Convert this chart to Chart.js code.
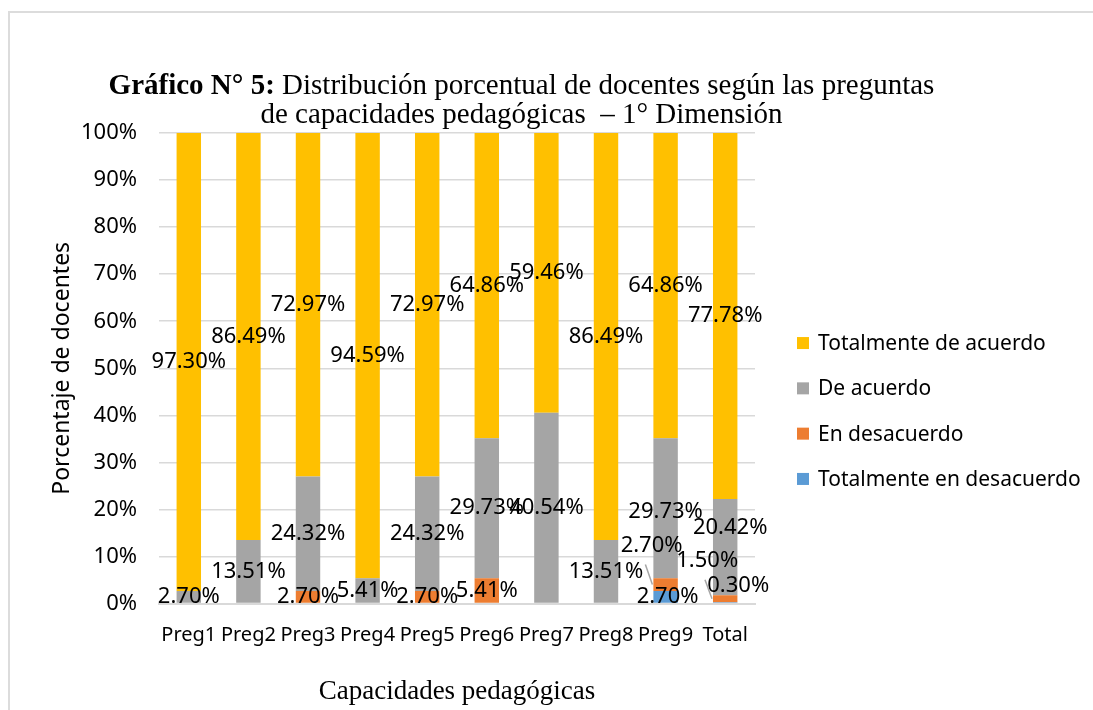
<!DOCTYPE html>
<html>
<head>
<meta charset="utf-8">
<script src="https://cdn.jsdelivr.net/npm/chart.js@4"></script>
<style>
  html, body { margin: 0; padding: 0; background: #fff; }
  #wrap { position: relative; width: 1093px; height: 710px; overflow: hidden; }
  #frame { position: absolute; left: 8px; top: 11px; width: 1200px; height: 800px; border: 2px solid #dcdcdc; box-sizing: border-box; }
  #titulo { position: absolute; left: 0; top: 70px; width: 1043px; text-align: center;
            font-family: "Liberation Serif", serif; font-size: 29px; line-height: 29px; color: #000; white-space: pre; }
  canvas { position: absolute; left: 0; top: 0; }
</style>
</head>
<body>
<div id="wrap">
  <div id="frame"></div>
  <canvas id="grafico" width="1093" height="710"></canvas>
  <div id="titulo"><b>Gráfico N° 5:</b> Distribución porcentual de docentes según las preguntas
de capacidades pedagógicas  – 1° Dimensión</div>
</div>
<script>
// datos
const preguntas = ['Preg1', 'Preg2', 'Preg3', 'Preg4', 'Preg5', 'Preg6', 'Preg7', 'Preg8', 'Preg9', 'Total'];
const totalDesacuerdo = [0, 0, 0, 0, 0, 0, 0, 0, 2.70, 0.30];
const enDesacuerdo = [0, 0, 2.70, 0, 2.70, 5.41, 0, 0, 2.70, 1.50];
const deAcuerdo = [2.70, 13.51, 24.32, 5.41, 24.32, 29.73, 40.54, 13.51, 29.73, 20.42];
const totalAcuerdo = [97.30, 86.49, 72.97, 94.59, 72.97, 64.86, 59.46, 86.49, 64.86, 77.78];

const fuente = '"Noto Sans", sans-serif';

// etiquetas desplazadas (dataset-índice) -> desplazamiento en px y línea guía
const desplazamientos = {
    '0-8': { dx: 2, dy: 0 },
    '1-8': { dx: -14, dy: -39, guia: true },
    '2-8': { dx: 0, dy: 4 },
    '0-9': { dx: 13, dy: -17 },
    '1-9': { dx: -18, dy: -38, guia: true },
    '2-9': { dx: 5, dy: -19 }
};

// etiquetas de datos centradas en cada segmento
const etiquetasPlugin = {
    id: 'etiquetas',
    afterDatasetsDraw(chart) {
        const ctx = chart.ctx;
        ctx.save();
        ctx.font = '22px ' + fuente;
        ctx.textAlign = 'center';
        ctx.textBaseline = 'middle';
        chart.data.datasets.forEach((ds, i) => {
            const meta = chart.getDatasetMeta(i);
            meta.data.forEach((bar, j) => {
                const v = ds.data[j];
                if (!v) return;
                const off = desplazamientos[i + '-' + j] || { dx: 0, dy: 0 };
                const yc = (bar.y + bar.base) / 2;
                const x = bar.x + off.dx;
                const y = yc + off.dy;
                if (off.guia) {
                    const izq = bar.x - bar.width / 2;
                    ctx.strokeStyle = '#a6a6a6';
                    ctx.lineWidth = 1.5;
                    ctx.beginPath();
                    ctx.moveTo(izq - 8, y + 19);
                    ctx.lineTo(izq - 1, yc);
                    ctx.stroke();
                }
                ctx.fillStyle = '#000';
                ctx.fillText(v.toFixed(2) + '%', x, y);
            });
        });
        ctx.restore();
    }
};

// leyenda a la derecha (en orden inverso, como en Excel)
const leyendaPlugin = {
    id: 'leyenda',
    afterDraw(chart) {
        const ctx = chart.ctx;
        const area = chart.chartArea;
        const series = chart.data.datasets.slice().reverse();
        const paso = 45.3;
        const y0 = 411 - paso * (series.length - 1) / 2;
        ctx.save();
        ctx.font = '21px ' + fuente;
        ctx.textAlign = 'left';
        ctx.textBaseline = 'middle';
        series.forEach((ds, k) => {
            const y = y0 + k * paso;
            ctx.fillStyle = ds.backgroundColor;
            ctx.fillRect(area.right + 42, y - 6, 12, 12);
            ctx.fillStyle = '#000';
            ctx.fillText(ds.label, area.right + 63, y + 1);
        });
        ctx.restore();
    }
};

const ctx = document.getElementById('grafico').getContext('2d');

new Chart(ctx, {
    type: 'bar',
    data: {
        labels: preguntas,
        datasets: [
            { label: 'Totalmente en desacuerdo', data: totalDesacuerdo, backgroundColor: '#5B9BD5' },
            { label: 'En desacuerdo', data: enDesacuerdo, backgroundColor: '#ED7D31' },
            { label: 'De acuerdo', data: deAcuerdo, backgroundColor: '#A5A5A5' },
            { label: 'Totalmente de acuerdo', data: totalAcuerdo, backgroundColor: '#FFC000' }
        ]
    },
    options: {
        responsive: false,
        animation: false,
        datasets: { bar: { barPercentage: 0.41, categoryPercentage: 1.0 } },
        layout: { padding: { left: 49, top: 133, right: 338, bottom: 2 } },
        plugins: {
            tooltip: { enabled: false },
            legend: { display: false }
        },
        scales: {
            x: {
                stacked: true,
                grid: { display: false },
                border: { color: '#d9d9d9', width: 2 },
                ticks: { color: '#000', font: { family: fuente, size: 20 }, padding: 12, maxRotation: 0 },
                title: {
                    display: true,
                    text: 'Capacidades pedagógicas',
                    color: '#000',
                    font: { family: '"Liberation Serif", serif', size: 27 },
                    padding: { top: 16, bottom: 0 }
                }
            },
            y: {
                stacked: true,
                min: 0,
                max: 100,
                afterFit: (s) => { s.width = 110; },
                grid: { color: '#d9d9d9', lineWidth: 1.5, drawTicks: false },
                border: { display: false },
                ticks: {
                    stepSize: 10,
                    color: '#000',
                    padding: 22,
                    font: { family: fuente, size: 22 },
                    callback: (v) => v + '%'
                },
                title: {
                    display: true,
                    text: 'Porcentaje de docentes',
                    color: '#000',
                    font: { family: fuente, size: 23 },
                    padding: 0
                }
            }
        }
    },
    plugins: [etiquetasPlugin, leyendaPlugin]
});
</script>
</body>
</html>
